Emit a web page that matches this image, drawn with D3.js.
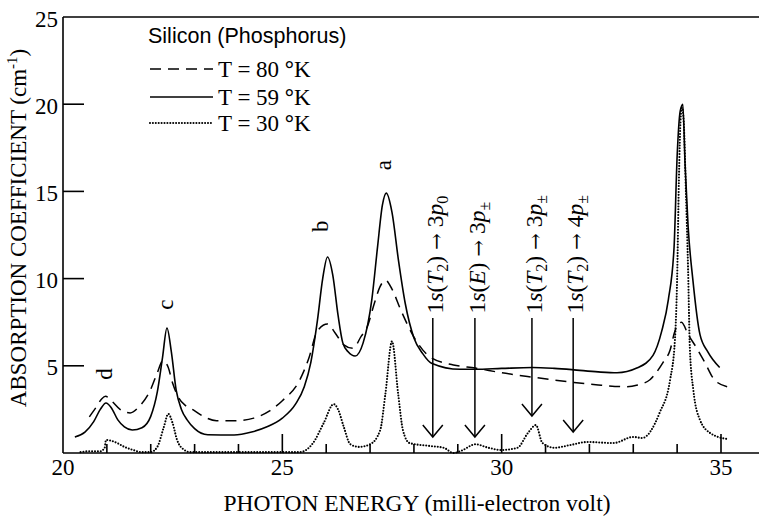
<!DOCTYPE html>
<html>
<head>
<meta charset="utf-8">
<script src="https://cdn.jsdelivr.net/npm/d3@7"></script>
<style>
  body { margin: 0; background: #fff; }
  svg { display: block; }
</style>
</head>
<body>
<svg id="chart" width="759" height="518"></svg>
<script>
// Absorption spectra of phosphorus-doped silicon at three temperatures
// energy in meV, absorption coefficient in cm^-1

const energyT80 = [20.6, 20.75, 20.88, 20.97, 21.1, 21.3, 21.53, 21.75, 21.99, 22.15, 22.28, 22.4, 22.5, 22.63, 22.8, 22.97, 23.2, 23.5, 23.9, 24.35, 24.7, 25.0, 25.4, 25.6, 25.8, 26.03, 26.2, 26.4, 26.61, 26.8, 26.93, 27.1, 27.22, 27.35, 27.5, 27.7, 28.0, 28.37, 28.9, 29.4, 30.0, 30.7, 31.57, 32.2, 32.86, 33.1, 33.38, 33.68, 33.84, 33.95, 34.1, 34.25, 34.45, 34.63, 34.85, 35.14];
const alphaT80  = [2.07, 2.6, 3.1, 3.25, 3.0, 2.5, 2.3, 2.7, 3.6, 4.6, 5.3, 4.9, 4.0, 3.2, 2.7, 2.47, 2.1, 1.85, 1.85, 2.0, 2.4, 3.0, 4.2, 5.4, 7.0, 7.4, 6.9, 6.2, 6.0, 6.7, 7.2, 8.6, 9.5, 9.9, 9.4, 8.2, 6.65, 5.5, 5.05, 4.87, 4.6, 4.35, 4.07, 3.9, 3.8, 3.9, 4.2, 5.2, 5.9, 7.0, 7.5, 6.8, 6.0, 5.2, 4.2, 3.8];

const energyT59 = [20.27, 20.5, 20.7, 20.85, 20.98, 21.1, 21.25, 21.4, 21.58, 21.8, 22.0, 22.15, 22.27, 22.37, 22.47, 22.58, 22.7, 22.83, 23.0, 23.3, 23.9, 24.3, 24.65, 25.0, 25.3, 25.5, 25.65, 25.8, 25.92, 26.03, 26.15, 26.27, 26.38, 26.5, 26.66, 26.84, 27.04, 27.17, 27.28, 27.37, 27.5, 27.65, 27.8, 28.0, 28.2, 28.4, 29.05, 29.4, 30.0, 30.7, 31.2, 31.6, 32.2, 32.63, 33.08, 33.45, 33.65, 33.8, 33.93, 34.0, 34.07, 34.13, 34.18, 34.25, 34.36, 34.52, 34.7, 34.97];
const alphaT59  = [0.92, 1.2, 1.8, 2.5, 2.87, 2.6, 1.9, 1.5, 1.32, 1.45, 2.1, 3.5, 5.5, 7.17, 5.8, 3.6, 2.5, 1.9, 1.4, 1.05, 1.03, 1.2, 1.5, 2.0, 2.8, 3.8, 5.2, 7.6, 10.0, 11.24, 10.2, 7.9, 6.3, 5.8, 5.56, 6.3, 8.8, 11.8, 14.2, 14.9, 13.8, 11.0, 8.6, 6.6, 5.7, 5.15, 4.8, 4.8, 4.85, 4.9, 4.85, 4.78, 4.65, 4.6, 4.87, 5.6, 7.0, 8.8, 11.8, 17.0, 19.6, 20.0, 16.6, 13.0, 9.9, 6.8, 5.8, 4.9];

const energyT30 = [20.4, 20.6, 20.85, 20.95, 20.98, 21.07, 21.25, 21.4, 21.6, 21.8, 22.0, 22.15, 22.3, 22.4, 22.5, 22.6, 22.75, 22.9, 23.5, 24.5, 25.4, 25.7, 25.94, 26.17, 26.27, 26.4, 26.55, 26.75, 27.0, 27.23, 27.35, 27.5, 27.64, 27.75, 27.9, 28.37, 28.68, 28.9, 29.1, 29.4, 29.7, 29.98, 30.36, 30.6, 30.78, 30.93, 31.2, 31.57, 31.95, 32.55, 33.0, 33.2, 33.6, 33.84, 33.95, 34.0, 34.04, 34.08, 34.11, 34.15, 34.2, 34.25, 34.29, 34.37, 34.52, 34.75, 35.14];
const alphaT30  = [0.05, 0.1, 0.1, 0.3, 0.75, 0.72, 0.55, 0.35, 0.17, 0.05, 0.05, 0.35, 1.5, 2.24, 1.7, 0.75, 0.2, 0.05, 0.05, 0.05, 0.05, 0.57, 1.7, 2.8, 2.5, 1.5, 0.5, 0.35, 0.5, 1.3, 3.4, 6.4, 3.4, 1.3, 0.57, 0.4, 0.3, 0.0, 0.15, 0.5, 0.3, 0.17, 0.3, 1.15, 1.6, 0.57, 0.3, 0.46, 0.63, 0.57, 0.92, 0.86, 2.3, 4.2, 6.5, 10.0, 15.6, 19.2, 19.8, 19.0, 15.0, 10.5, 6.0, 3.6, 1.9, 1.15, 0.8];

// axis ticks
const xMinorTicks = [21, 22, 23, 24, 26, 27, 28, 29, 31, 32, 33, 34];
const xMajorTicks = [25, 30, 35];
const xTickLabels = [20, 25, 30, 35];
const yTickValues = [5, 10, 15, 20];
const yTickLabels = [5, 10, 15, 20, 25];

// peak letters and where they sit (meV, cm^-1)
const peakNames   = ["a", "b", "c", "d"];
const peakEnergy  = [27.29, 25.86, 22.33, 20.93];
const peakLabelAt = [16.5, 13.0, 8.5, 4.53];

// marked transitions: arrow energy and the absorption level of the arrow tip
const transitionEnergy = [28.43, 29.39, 30.69, 31.63];
const transitionTip    = [0.92, 0.92, 2.12, 1.2];
const transitionFrom   = [["1", "T", "2", "3", "0"], ["1", "E", "", "3", "±"], ["1", "T", "2", "3", "±"], ["1", "T", "2", "4", "±"]];

const legendTemps = ["80", "59", "30"];

const W = 759, H = 518;
const plotLeft = 63, plotTop = 17, plotBottom = 453;

const x = d3.scaleLinear().domain([20, 35]).range([plotLeft, 721]);
const y = d3.scaleLinear().domain([0, 25]).range([plotBottom, plotTop]);

const svg = d3.select("#chart");
const serif = "'Liberation Serif', 'Times New Roman', serif";
const sans = "'Liberation Sans', Arial, sans-serif";

// frame: left axis, top rule, bottom axis
const frame = svg.append("g").attr("stroke", "#000").attr("stroke-width", 1.6).attr("fill", "none");
frame.append("line").attr("x1", plotLeft).attr("x2", plotLeft).attr("y1", plotTop).attr("y2", plotBottom);
frame.append("line").attr("x1", plotLeft).attr("x2", W).attr("y1", plotTop).attr("y2", plotTop);
frame.append("line").attr("x1", plotLeft).attr("x2", W).attr("y1", plotBottom).attr("y2", plotBottom);

// y ticks, pointing inward
frame.selectAll(".ytick").data(yTickValues).join("line")
  .attr("x1", plotLeft).attr("x2", plotLeft + 21)
  .attr("y1", d => y(d)).attr("y2", d => y(d));

// x ticks, pointing upward
frame.selectAll(".xminor").data(xMinorTicks).join("line")
  .attr("x1", d => x(d)).attr("x2", d => x(d))
  .attr("y1", plotBottom).attr("y2", plotBottom - 9);
frame.selectAll(".xmajor").data(xMajorTicks).join("line")
  .attr("x1", d => x(d)).attr("x2", d => x(d))
  .attr("y1", plotBottom).attr("y2", plotBottom - 19);

// tick labels
svg.append("g").selectAll("text").data(yTickLabels).join("text")
  .attr("x", plotLeft - 5).attr("y", d => y(d)).attr("dy", "0.42em")
  .attr("text-anchor", "end")
  .attr("font-family", serif).attr("font-size", 23)
  .text(d => d);

svg.append("g").selectAll("text").data(xTickLabels).join("text")
  .attr("x", d => x(d)).attr("y", 475)
  .attr("text-anchor", "middle")
  .attr("font-family", serif).attr("font-size", 23)
  .text(d => d);

// axis titles
svg.append("text")
  .attr("x", 417).attr("y", 511)
  .attr("text-anchor", "middle")
  .attr("font-family", serif).attr("font-size", 23.5)
  .text("PHOTON ENERGY (milli-electron volt)");

const yTitle = svg.append("text")
  .attr("transform", "translate(18,228) rotate(-90)")
  .attr("text-anchor", "middle").attr("dy", "0.35em")
  .attr("font-family", serif).attr("font-size", 23);
yTitle.append("tspan").text("ABSORPTION COEFFICIENT (cm");
yTitle.append("tspan").attr("font-size", 15).attr("dy", -9).text("-1");
yTitle.append("tspan").attr("dy", 9).text(")");

// spectra
const line = d3.line().curve(d3.curveMonotoneX).x(d => x(d[0])).y(d => y(d[1]));
const series = [
  { e: energyT80, a: alphaT80, dash: "11,7", width: 1.5, cap: "butt" },
  { e: energyT59, a: alphaT59, dash: null,   width: 1.6, cap: "butt" },
  { e: energyT30, a: alphaT30, dash: "0,2.9", width: 2.1, cap: "round" }
];
series.forEach(s => {
  svg.append("path")
    .datum(d3.zip(s.e, s.a))
    .attr("d", line)
    .attr("fill", "none").attr("stroke", "#000")
    .attr("stroke-width", s.width)
    .attr("stroke-linecap", s.cap)
    .attr("stroke-dasharray", s.dash);
});

// legend
svg.append("text")
  .attr("x", 148).attr("y", 43)
  .attr("font-family", sans).attr("font-size", 21.5)
  .text("Silicon (Phosphorus)");
const legendRowY = [69, 97, 123];
legendTemps.forEach((t, i) => {
  const s = series[i];
  svg.append("line")
    .attr("x1", 150).attr("x2", 213)
    .attr("y1", legendRowY[i]).attr("y2", legendRowY[i])
    .attr("stroke", "#000").attr("stroke-width", s.width)
    .attr("stroke-linecap", s.cap).attr("stroke-dasharray", s.dash);
  const tx = svg.append("text")
    .attr("x", 218).attr("y", legendRowY[i] + 8)
    .attr("font-family", serif).attr("font-size", 23);
  tx.append("tspan").text(`T = ${t} `);
  tx.append("tspan").attr("font-weight", "bold").text("°");
  tx.append("tspan").text("K");
});

// peak letters
svg.append("g").selectAll("text").data(peakNames).join("text")
  .attr("transform", (d, i) => `translate(${x(peakEnergy[i])},${y(peakLabelAt[i])}) rotate(-90)`)
  .attr("text-anchor", "middle").attr("dy", "0.35em")
  .attr("font-family", serif).attr("font-size", 23)
  .text(d => d);

// transition arrows and labels
const arrowTop = 7.74, labelBase = 8.0;
const ann = svg.append("g");
transitionEnergy.forEach((e, i) => {
  const px = x(e), tip = y(transitionTip[i]);
  ann.append("line")
    .attr("x1", px).attr("x2", px).attr("y1", y(arrowTop)).attr("y2", tip)
    .attr("stroke", "#000").attr("stroke-width", 1.5);
  ann.append("polyline")
    .attr("points", [[px - 10, tip - 12], [px, tip], [px + 10, tip - 12]].map(p => p.join(",")).join(" "))
    .attr("fill", "none").attr("stroke", "#000").attr("stroke-width", 1.5);

  const [n1, state, sub1, n2, sub2] = transitionFrom[i];
  const t = ann.append("text")
    .attr("transform", `translate(${px + 2},${y(labelBase)}) rotate(-90)`)
    .attr("dy", "0.35em")
    .attr("font-family", serif).attr("font-size", 23.5);
  t.append("tspan").text(n1);
  t.append("tspan").attr("font-style", "italic").text("s");
  t.append("tspan").text("(");
  t.append("tspan").attr("font-style", "italic").text(state);
  if (sub1) {
    t.append("tspan").attr("font-size", 16).attr("dy", 5).text(sub1);
    t.append("tspan").attr("dy", -5).text(")");
  } else {
    t.append("tspan").text(")");
  }
  t.append("tspan").text(" ");
  t.append("tspan").attr("font-family", "'DejaVu Serif', serif").attr("font-size", 20).text("→");
  t.append("tspan").text(" " + n2);
  t.append("tspan").attr("font-style", "italic").text("p");
  t.append("tspan").attr("font-size", 16).attr("dy", 5).text(sub2);
});
</script>
</body>
</html>
